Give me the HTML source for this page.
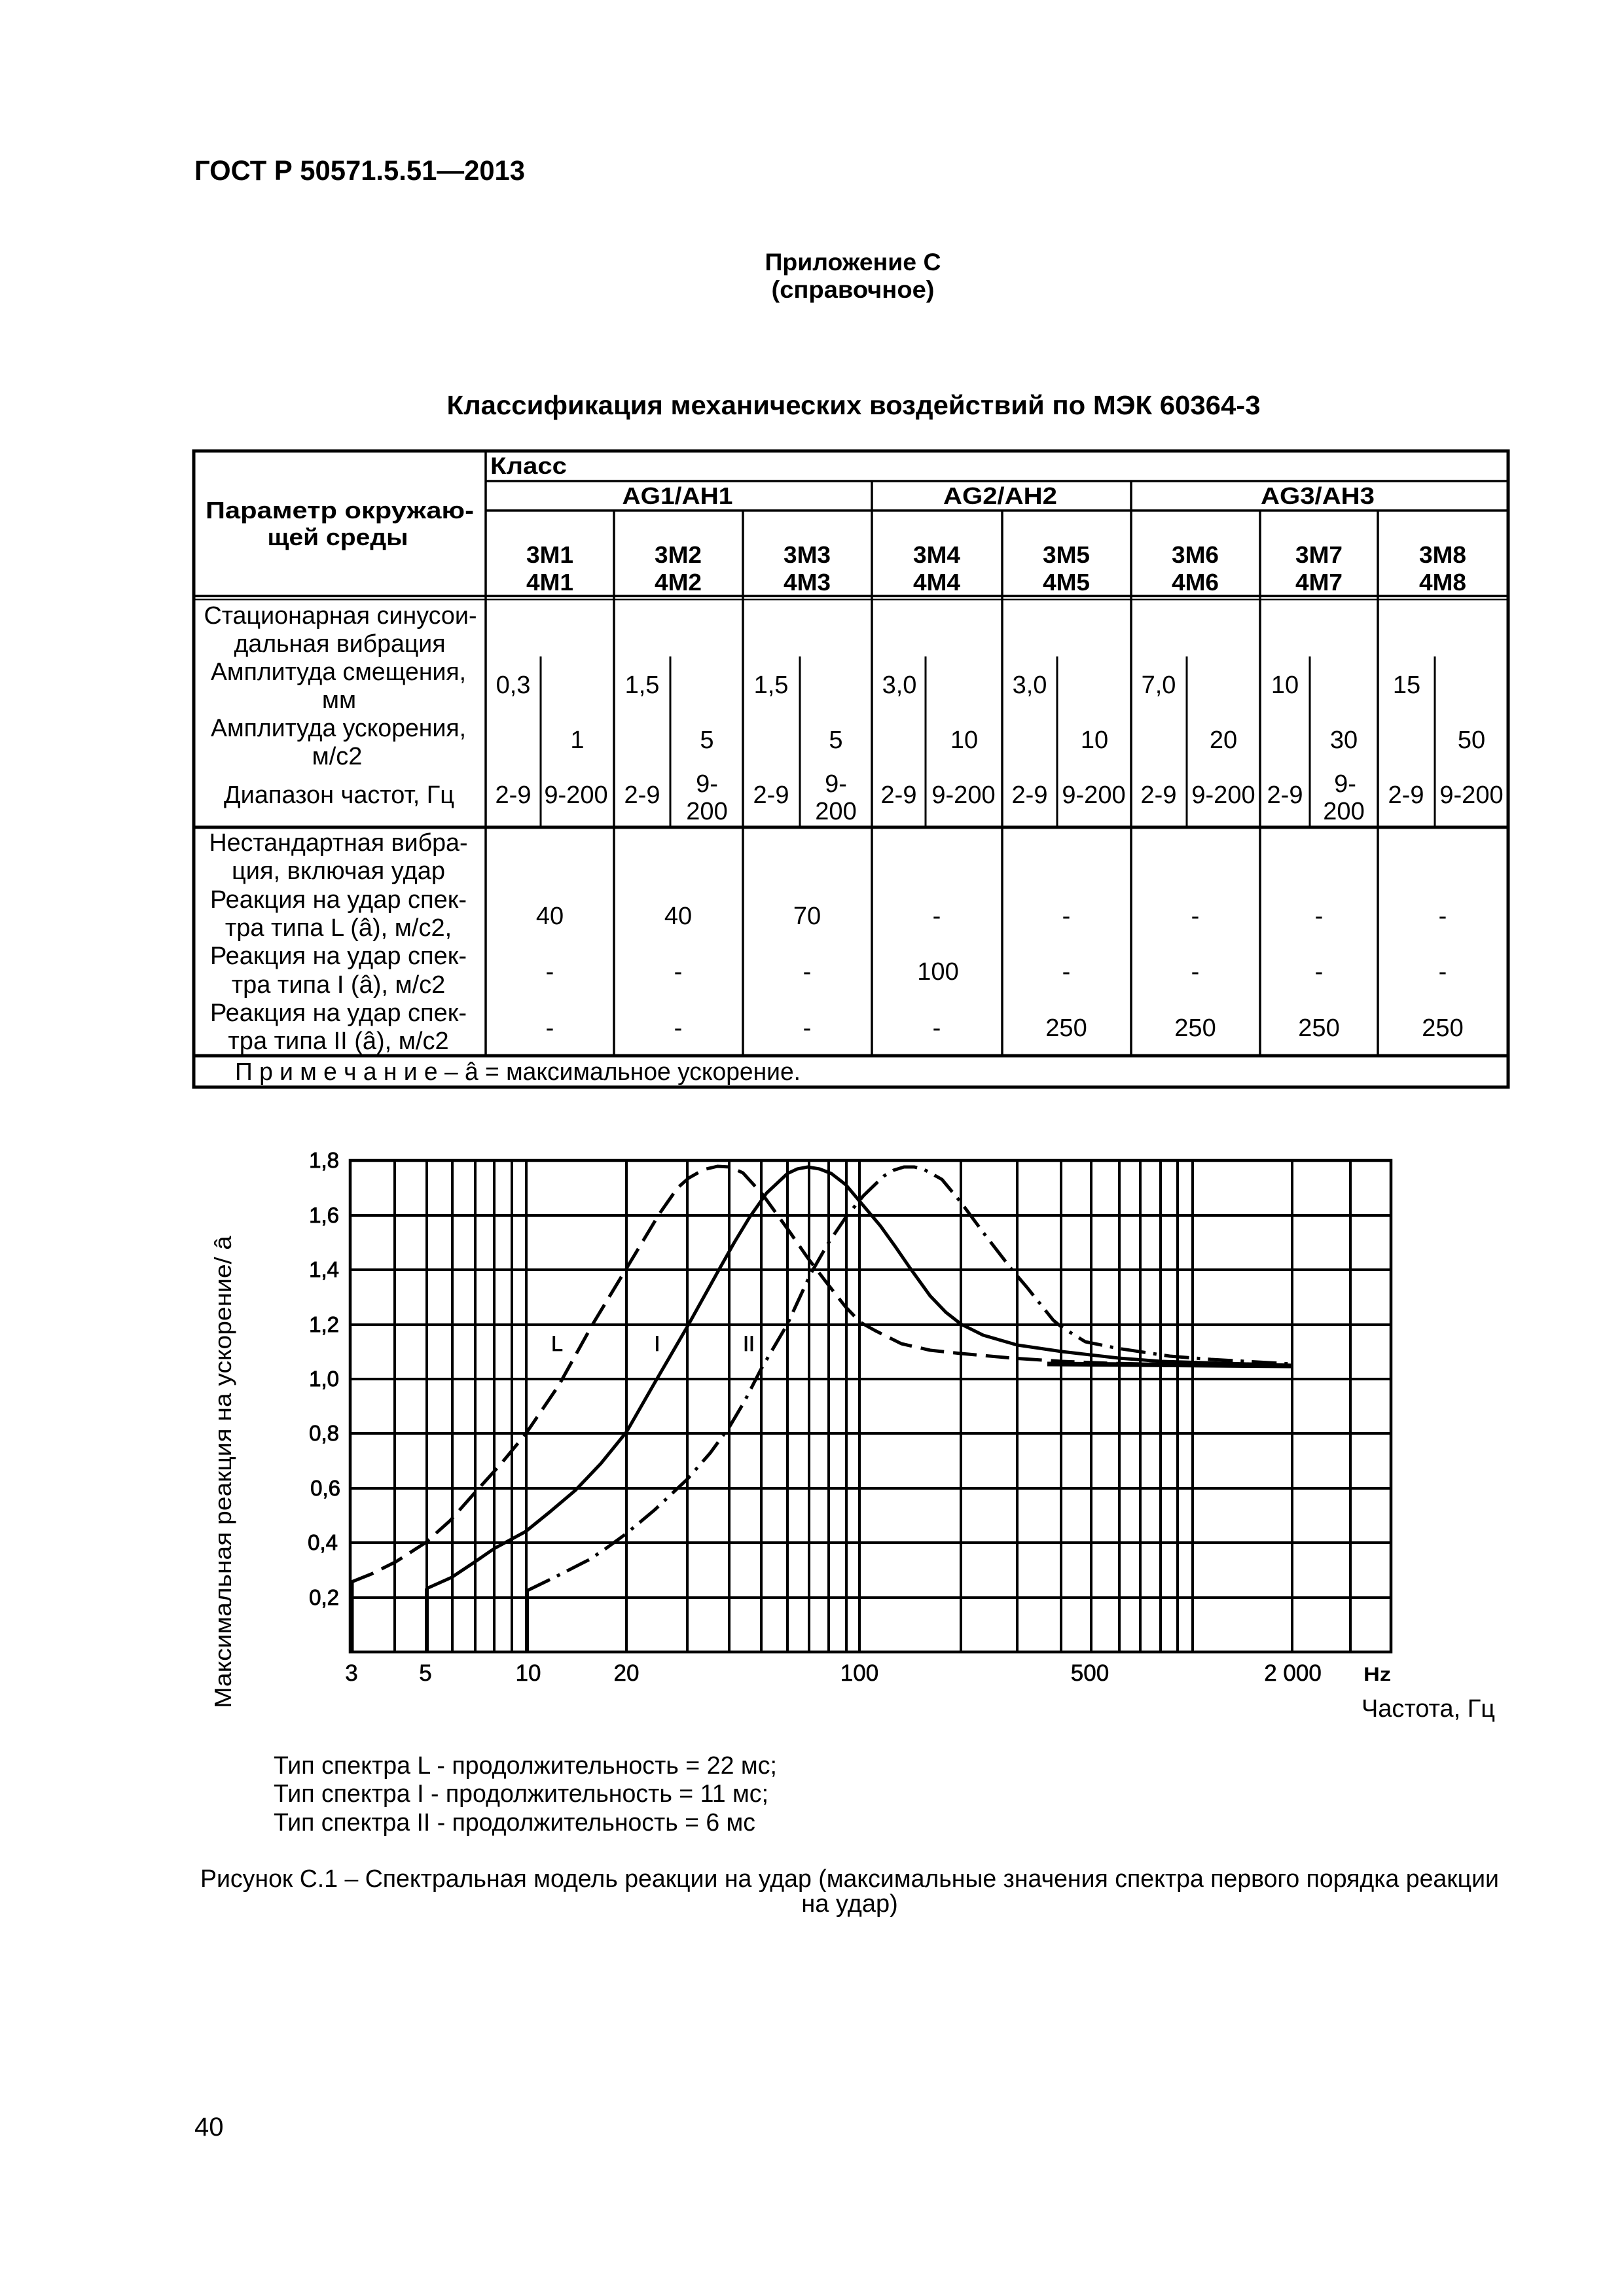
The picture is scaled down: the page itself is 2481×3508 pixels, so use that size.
<!DOCTYPE html>
<html>
<head>
<meta charset="utf-8">
<style>
html,body{margin:0;padding:0;background:#fff;}
svg{display:block;}
text{font-family:"Liberation Sans","Noto Sans CJK SC",sans-serif;fill:#000;}
.b{font-weight:bold;}
</style>
</head>
<body>
<svg width="2481" height="3508" viewBox="0 0 2481 3508" xmlns="http://www.w3.org/2000/svg">
<rect x="0" y="0" width="2481" height="3508" fill="#fff"/>

<!-- Header -->
<text class="b" x="297" y="275" font-size="43" textLength="505" lengthAdjust="spacingAndGlyphs">ГОСТ Р 50571.5.51—2013</text>
<text class="b" x="1303" y="413" font-size="37" text-anchor="middle" textLength="269" lengthAdjust="spacingAndGlyphs">Приложение С</text>
<text class="b" x="1303" y="455" font-size="37" text-anchor="middle" textLength="249" lengthAdjust="spacingAndGlyphs">(справочное)</text>
<text class="b" x="1304" y="633" font-size="41" text-anchor="middle" textLength="1243" lengthAdjust="spacingAndGlyphs">Классификация механических воздействий по МЭК 60364-3</text>

<!-- Table lines -->
<g stroke="#000" fill="none">
  <rect x="296" y="689" width="2008" height="972" stroke-width="5"/>
  <line x1="742" y1="735" x2="2304" y2="735" stroke-width="3.5"/>
  <line x1="742" y1="780" x2="2304" y2="780" stroke-width="3.5"/>
  <line x1="296" y1="910.5" x2="2304" y2="910.5" stroke-width="3.5"/>
  <line x1="296" y1="916" x2="2304" y2="916" stroke-width="2.5"/>
  <line x1="296" y1="1264" x2="2304" y2="1264" stroke-width="5"/>
  <line x1="296" y1="1613" x2="2304" y2="1613" stroke-width="5"/>
  <line x1="742" y1="689" x2="742" y2="1613" stroke-width="3.5"/>
  <line x1="1332" y1="735" x2="1332" y2="1613" stroke-width="3.5"/>
  <line x1="1728" y1="735" x2="1728" y2="1613" stroke-width="3.5"/>
  <line x1="938" y1="780" x2="938" y2="1613" stroke-width="3.5"/>
  <line x1="1135" y1="780" x2="1135" y2="1613" stroke-width="3.5"/>
  <line x1="1531" y1="780" x2="1531" y2="1613" stroke-width="3.5"/>
  <line x1="1925" y1="780" x2="1925" y2="1613" stroke-width="3.5"/>
  <line x1="2105" y1="780" x2="2105" y2="1613" stroke-width="3.5"/>
  <!-- sub dividers -->
  <line x1="826" y1="1003" x2="826" y2="1264" stroke-width="3"/>
  <line x1="1024" y1="1003" x2="1024" y2="1264" stroke-width="3"/>
  <line x1="1222" y1="1003" x2="1222" y2="1264" stroke-width="3"/>
  <line x1="1414" y1="1003" x2="1414" y2="1264" stroke-width="3"/>
  <line x1="1615" y1="1003" x2="1615" y2="1264" stroke-width="3"/>
  <line x1="1813" y1="1003" x2="1813" y2="1264" stroke-width="3"/>
  <line x1="2001" y1="1003" x2="2001" y2="1264" stroke-width="3"/>
  <line x1="2192" y1="1003" x2="2192" y2="1264" stroke-width="3"/>
</g>

<!-- Table header text -->
<g class="b" font-size="36">
  <text x="519" y="792" text-anchor="middle" textLength="410" lengthAdjust="spacingAndGlyphs">Параметр окружаю-</text>
  <text x="516" y="833" text-anchor="middle" textLength="215" lengthAdjust="spacingAndGlyphs">щей среды</text>
  <text x="749" y="724" textLength="117" lengthAdjust="spacingAndGlyphs">Класс</text>
  <text x="1035" y="770" text-anchor="middle" textLength="169" lengthAdjust="spacingAndGlyphs">AG1/AH1</text>
  <text x="1528" y="770" text-anchor="middle" textLength="174" lengthAdjust="spacingAndGlyphs">AG2/AH2</text>
  <text x="2013" y="770" text-anchor="middle" textLength="174" lengthAdjust="spacingAndGlyphs">AG3/AH3</text>
</g>
<g class="b" font-size="36" text-anchor="middle">
  <text x="840" y="860" textLength="72" lengthAdjust="spacingAndGlyphs">3M1</text>
  <text x="840" y="902" textLength="72" lengthAdjust="spacingAndGlyphs">4M1</text>
  <text x="1036" y="860" textLength="72" lengthAdjust="spacingAndGlyphs">3M2</text>
  <text x="1036" y="902" textLength="72" lengthAdjust="spacingAndGlyphs">4M2</text>
  <text x="1233" y="860" textLength="72" lengthAdjust="spacingAndGlyphs">3M3</text>
  <text x="1233" y="902" textLength="72" lengthAdjust="spacingAndGlyphs">4M3</text>
  <text x="1431" y="860" textLength="72" lengthAdjust="spacingAndGlyphs">3M4</text>
  <text x="1431" y="902" textLength="72" lengthAdjust="spacingAndGlyphs">4M4</text>
  <text x="1629" y="860" textLength="72" lengthAdjust="spacingAndGlyphs">3M5</text>
  <text x="1629" y="902" textLength="72" lengthAdjust="spacingAndGlyphs">4M5</text>
  <text x="1826" y="860" textLength="72" lengthAdjust="spacingAndGlyphs">3M6</text>
  <text x="1826" y="902" textLength="72" lengthAdjust="spacingAndGlyphs">4M6</text>
  <text x="2015" y="860" textLength="72" lengthAdjust="spacingAndGlyphs">3M7</text>
  <text x="2015" y="902" textLength="72" lengthAdjust="spacingAndGlyphs">4M7</text>
  <text x="2204" y="860" textLength="72" lengthAdjust="spacingAndGlyphs">3M8</text>
  <text x="2204" y="902" textLength="72" lengthAdjust="spacingAndGlyphs">4M8</text>
</g>

<!-- Data row left column -->
<g font-size="38" text-anchor="middle">
  <text x="520" y="953" textLength="417" lengthAdjust="spacingAndGlyphs">Стационарная синусои-</text>
  <text x="519" y="996" textLength="323" lengthAdjust="spacingAndGlyphs">дальная вибрация</text>
  <text x="517" y="1039" textLength="390" lengthAdjust="spacingAndGlyphs">Амплитуда смещения,</text>
  <text x="518" y="1082">мм</text>
  <text x="517" y="1125" textLength="390" lengthAdjust="spacingAndGlyphs">Амплитуда ускорения,</text>
  <text x="515" y="1168">м/с2</text>
  <text x="518" y="1227" textLength="352" lengthAdjust="spacingAndGlyphs">Диапазон частот, Гц</text>
</g>
<!-- Data values -->
<g font-size="38" text-anchor="middle">
  <text x="784" y="1059">0,3</text>
  <text x="981" y="1059">1,5</text>
  <text x="1178" y="1059">1,5</text>
  <text x="1374" y="1059">3,0</text>
  <text x="1573" y="1059">3,0</text>
  <text x="1770" y="1059">7,0</text>
  <text x="1963" y="1059">10</text>
  <text x="2149" y="1059">15</text>

  <text x="882" y="1143">1</text>
  <text x="1080" y="1143">5</text>
  <text x="1277" y="1143">5</text>
  <text x="1473" y="1143">10</text>
  <text x="1672" y="1143">10</text>
  <text x="1869" y="1143">20</text>
  <text x="2053" y="1143">30</text>
  <text x="2248" y="1143">50</text>

  <text x="784" y="1227">2-9</text>
  <text x="880" y="1227">9-200</text>
  <text x="981" y="1227">2-9</text>
  <text x="1080" y="1210">9-</text>
  <text x="1080" y="1252">200</text>
  <text x="1178" y="1227">2-9</text>
  <text x="1277" y="1210">9-</text>
  <text x="1277" y="1252">200</text>
  <text x="1373" y="1227">2-9</text>
  <text x="1472" y="1227">9-200</text>
  <text x="1573" y="1227">2-9</text>
  <text x="1671" y="1227">9-200</text>
  <text x="1770" y="1227">2-9</text>
  <text x="1869" y="1227">9-200</text>
  <text x="1963" y="1227">2-9</text>
  <text x="2055" y="1210">9-</text>
  <text x="2053" y="1252">200</text>
  <text x="2148" y="1227">2-9</text>
  <text x="2248" y="1227">9-200</text>
</g>

<!-- Nonstandard section -->
<g font-size="38" text-anchor="middle">
  <text x="517" y="1300" textLength="395" lengthAdjust="spacingAndGlyphs">Нестандартная вибра-</text>
  <text x="517" y="1343">ция, включая удар</text>
  <text x="517" y="1387">Реакция на удар спек-</text>
  <text x="517" y="1430">тра типа L (â), м/с2,</text>
  <text x="517" y="1473">Реакция на удар спек-</text>
  <text x="517" y="1517">тра типа I (â), м/с2</text>
  <text x="517" y="1560">Реакция на удар спек-</text>
  <text x="517" y="1603">тра типа II (â), м/с2</text>
</g>
<g font-size="38" text-anchor="middle">
  <text x="840" y="1412">40</text>
  <text x="1036" y="1412">40</text>
  <text x="1233" y="1412">70</text>
  <text x="1431" y="1412">-</text>
  <text x="1629" y="1412">-</text>
  <text x="1826" y="1412">-</text>
  <text x="2015" y="1412">-</text>
  <text x="2204" y="1412">-</text>

  <text x="840" y="1497">-</text>
  <text x="1036" y="1497">-</text>
  <text x="1233" y="1497">-</text>
  <text x="1433" y="1497">100</text>
  <text x="1629" y="1497">-</text>
  <text x="1826" y="1497">-</text>
  <text x="2015" y="1497">-</text>
  <text x="2204" y="1497">-</text>

  <text x="840" y="1583">-</text>
  <text x="1036" y="1583">-</text>
  <text x="1233" y="1583">-</text>
  <text x="1431" y="1583">-</text>
  <text x="1629" y="1583">250</text>
  <text x="1826" y="1583">250</text>
  <text x="2015" y="1583">250</text>
  <text x="2204" y="1583">250</text>
</g>
<text x="359" y="1650" font-size="38" textLength="864" lengthAdjust="spacingAndGlyphs">П р и м е ч а н и е – â = максимальное ускорение.</text>

<!-- Chart grid -->
<g stroke="#000" stroke-width="4" fill="none">
  <line x1="603" y1="1773" x2="603" y2="2524"/>
  <line x1="652" y1="1773" x2="652" y2="2524"/>
  <line x1="691" y1="1773" x2="691" y2="2524"/>
  <line x1="726" y1="1773" x2="726" y2="2524"/>
  <line x1="755" y1="1773" x2="755" y2="2524"/>
  <line x1="782" y1="1773" x2="782" y2="2524"/>
  <line x1="804" y1="1773" x2="804" y2="2524"/>
  <line x1="957" y1="1773" x2="957" y2="2524"/>
  <line x1="1050" y1="1773" x2="1050" y2="2524"/>
  <line x1="1114" y1="1773" x2="1114" y2="2524"/>
  <line x1="1163" y1="1773" x2="1163" y2="2524"/>
  <line x1="1203" y1="1773" x2="1203" y2="2524"/>
  <line x1="1236" y1="1773" x2="1236" y2="2524"/>
  <line x1="1266" y1="1773" x2="1266" y2="2524"/>
  <line x1="1293" y1="1773" x2="1293" y2="2524"/>
  <line x1="1313" y1="1773" x2="1313" y2="2524"/>
  <line x1="1468" y1="1773" x2="1468" y2="2524"/>
  <line x1="1554" y1="1773" x2="1554" y2="2524"/>
  <line x1="1621" y1="1773" x2="1621" y2="2524"/>
  <line x1="1667" y1="1773" x2="1667" y2="2524"/>
  <line x1="1710" y1="1773" x2="1710" y2="2524"/>
  <line x1="1742" y1="1773" x2="1742" y2="2524"/>
  <line x1="1773" y1="1773" x2="1773" y2="2524"/>
  <line x1="1799" y1="1773" x2="1799" y2="2524"/>
  <line x1="1822" y1="1773" x2="1822" y2="2524"/>
  <line x1="1974" y1="1773" x2="1974" y2="2524"/>
  <line x1="2063" y1="1773" x2="2063" y2="2524"/>

  <line x1="535" y1="1857" x2="2125" y2="1857"/>
  <line x1="535" y1="1940" x2="2125" y2="1940"/>
  <line x1="535" y1="2024" x2="2125" y2="2024"/>
  <line x1="535" y1="2107" x2="2125" y2="2107"/>
  <line x1="535" y1="2190" x2="2125" y2="2190"/>
  <line x1="535" y1="2274" x2="2125" y2="2274"/>
  <line x1="535" y1="2357" x2="2125" y2="2357"/>
  <line x1="535" y1="2441" x2="2125" y2="2441"/>
  <rect x="535" y="1773" width="1590" height="751" stroke-width="4.5"/>
  <!-- thick start segments -->
  <line x1="537" y1="2415" x2="537" y2="2524" stroke-width="7"/>
  <line x1="652" y1="2427" x2="652" y2="2524" stroke-width="6"/>
  <line x1="805" y1="2430" x2="805" y2="2524" stroke-width="6"/>
</g>

<!-- Curves -->
<g fill="none" stroke="#000" stroke-width="5" stroke-linejoin="round" stroke-linecap="butt">
  <polyline stroke-dasharray="36 14" points="537,2417 567,2405 605,2386 650,2357 688,2323 726,2280 765,2237 803,2191 854,2116 905,2024 957,1938 1007,1855 1035,1815 1052,1800 1075,1787 1096,1782 1115,1783 1135,1792 1165,1825 1207,1883 1234,1922 1263,1960 1292,1997 1314,2020 1337,2033 1377,2053 1421,2063 1468,2068 1546,2075 1622,2080 1698,2083 1800,2085 1974,2087"/>
  <polyline points="652,2427 690,2410 726,2386 755,2366 803,2340 840,2310 879,2277 918,2236 957,2188 1000,2113 1050,2027 1075,1982 1100,1937 1122,1898 1145,1860 1171,1823 1203,1793 1218,1786 1234,1783 1252,1786 1270,1793 1292,1810 1313,1835 1345,1873 1368,1905 1390,1937 1421,1980 1445,2005 1468,2023 1502,2040 1554,2055 1622,2065 1709,2075 1774,2080 1974,2086"/>
  <polyline stroke-dasharray="38 12 5 12" points="806,2430 847,2410 900,2383 924,2367 957,2343 1000,2307 1050,2260 1085,2220 1115,2179 1138,2140 1162,2093 1203,2023 1238,1947 1265,1900 1292,1860 1319,1827 1350,1797 1365,1788 1381,1783 1397,1783 1412,1787 1439,1802 1468,1837 1502,1883 1546,1940 1569,1967 1609,2017 1621,2027 1658,2050 1707,2060 1787,2072 1850,2077 1974,2084"/>
  <line x1="1600" y1="2084" x2="1974" y2="2087" stroke-width="7"/>
</g>

<!-- Curve labels -->
<g font-size="32" text-anchor="middle" stroke="#000" stroke-width="0.8">
  <text x="851" y="2064">L</text>
  <text x="1004" y="2064">I</text>
  <text x="1144" y="2064">II</text>
</g>

<!-- Y ticks -->
<g font-size="33" text-anchor="end" stroke="#000" stroke-width="0.9">
  <text x="518" y="1784">1,8</text>
  <text x="518" y="1868">1,6</text>
  <text x="518" y="1951">1,4</text>
  <text x="518" y="2035">1,2</text>
  <text x="518" y="2118">1,0</text>
  <text x="518" y="2201">0,8</text>
  <text x="520" y="2285">0,6</text>
  <text x="516" y="2368">0,4</text>
  <text x="518" y="2452">0,2</text>
</g>
<!-- X ticks -->
<g font-size="35" text-anchor="middle" stroke="#000" stroke-width="0.6">
  <text x="537" y="2568">3</text>
  <text x="650" y="2568">5</text>
  <text x="807" y="2568">10</text>
  <text x="957" y="2568">20</text>
  <text x="1313" y="2568">100</text>
  <text x="1665" y="2568">500</text>
  <text x="1975" y="2568">2 000</text>
</g>
<text class="b" x="2083" y="2568" font-size="30" textLength="42" lengthAdjust="spacingAndGlyphs">Hz</text>
<text x="2080" y="2623" font-size="38" textLength="204" lengthAdjust="spacingAndGlyphs">Частота, Гц</text>
<text transform="translate(353,2610) rotate(-90)" x="0" y="0" font-size="36" textLength="722" lengthAdjust="spacingAndGlyphs">Максимальная реакция на ускорение/ â</text>

<!-- Legend / captions -->
<g font-size="38">
  <text x="418" y="2710" textLength="769" lengthAdjust="spacingAndGlyphs">Тип спектра L - продолжительность = 22 мс;</text>
  <text x="418" y="2753" textLength="756" lengthAdjust="spacingAndGlyphs">Тип спектра I - продолжительность = 11 мс;</text>
  <text x="418" y="2797" textLength="736" lengthAdjust="spacingAndGlyphs">Тип спектра II - продолжительность = 6 мс</text>
  <text x="306" y="2883" textLength="1984" lengthAdjust="spacingAndGlyphs">Рисунок С.1 – Спектральная модель реакции на удар (максимальные значения спектра первого порядка реакции</text>
  <text x="1298" y="2921" text-anchor="middle">на удар)</text>
</g>

<text x="297" y="3263" font-size="40">40</text>
</svg>
</body>
</html>
